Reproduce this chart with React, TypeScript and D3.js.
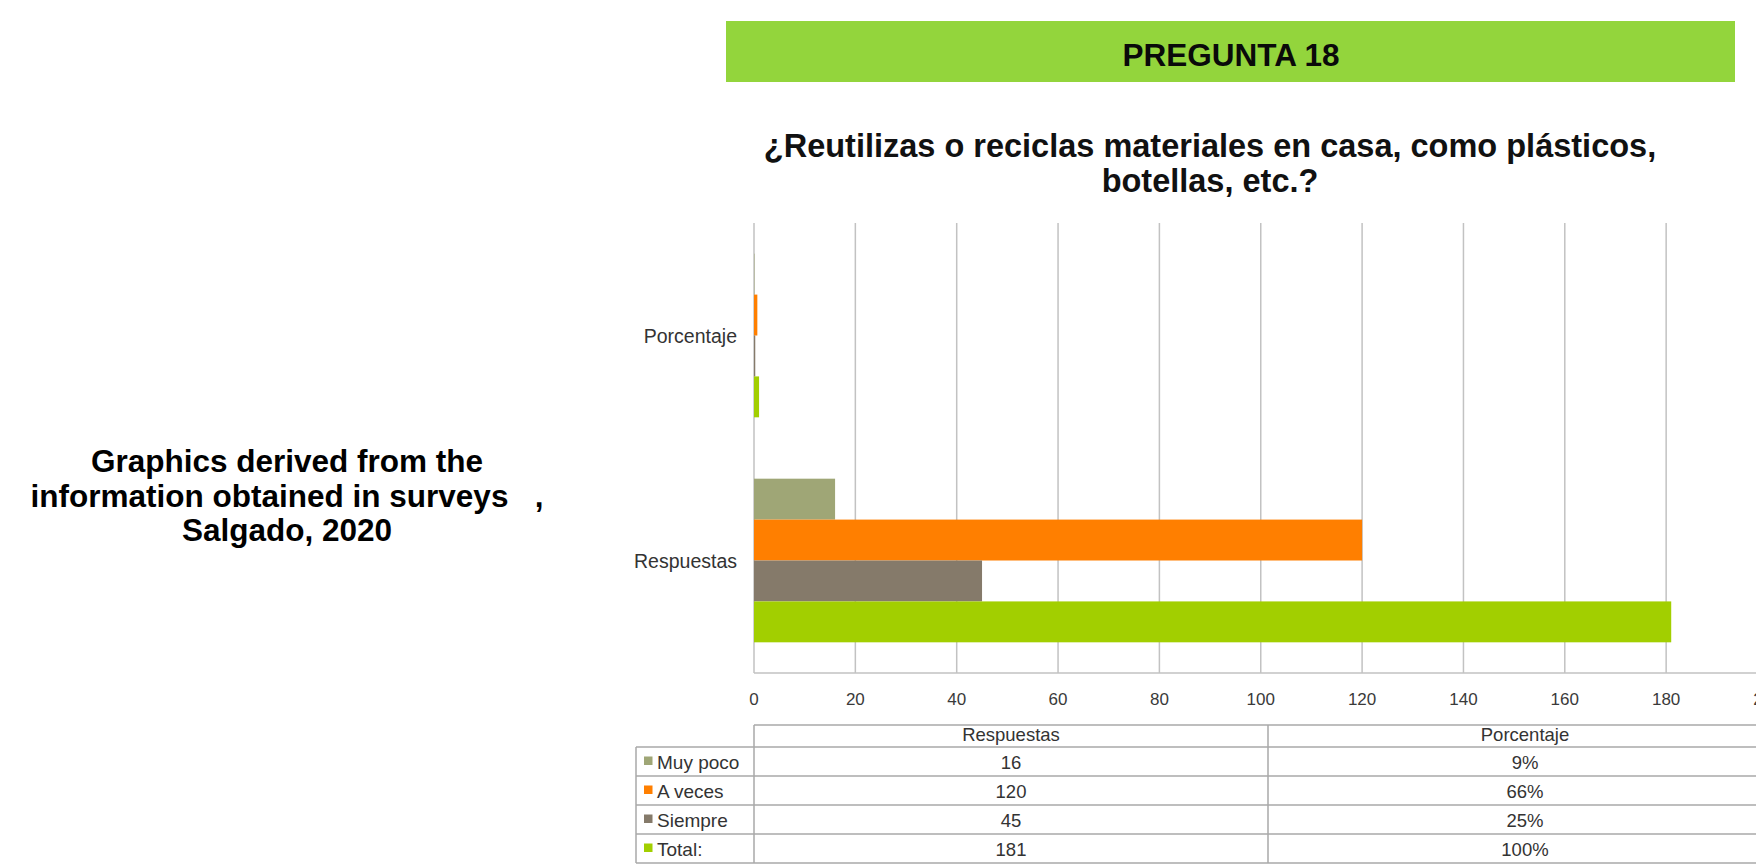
import React, { useEffect } from 'react';
import * as d3 from 'd3';

// survey answers, question 18
const categories = ['Porcentaje', 'Respuestas'];
const tableColumns = ['Respuestas', 'Porcentaje'];
const seriesNames = ['Muy poco', 'A veces', 'Siempre', 'Total:'];
const respuestas = [16, 120, 45, 181];
const porcentaje = [0.09, 0.66, 0.25, 1];
const seriesColors = ['#9FA676', '#FF7F00', '#857A6A', '#A2CF00'];
const xTickValues = [0, 20, 40, 60, 80, 100, 120, 140, 160, 180, 200];

const headerText = 'PREGUNTA 18';
const titleLines = ['¿Reutilizas o reciclas materiales en casa, como plásticos,', 'botellas, etc.?'];
const noteLines = ['Graphics derived from the', 'information obtained in surveys   ,', 'Salgado, 2020'];

const W = 1756;
const H = 864;
const plot = { left: 754, right: 1767.5, top: 223, bottom: 673 };
const table = { left: 636, right: 1782, headTop: 725, rowTop: 747, bottom: 863 };

const FONT = "'Liberation Sans', Arial, sans-serif";
const GRID = '#C2C2C2';
const LINE = '#A8A8A8';

export default function App() {
    useEffect(() => {
        document.body.style.margin = '0';
    }, []);

    const x = d3.scaleLinear().domain([0, 200]).range([plot.left, plot.right]);

    const y0 = d3.scaleBand<string>().domain(categories).range([plot.top, plot.bottom]);
    const y1 = d3.scaleBand<string>()
        .domain(seriesNames)
        .range([0, y0.bandwidth()])
        .paddingInner(0)
        .paddingOuter(0.75);

    const values: Record<string, number[]> = { Porcentaje: porcentaje, Respuestas: respuestas };

    const colX = d3.scaleBand<string>().domain(tableColumns).range([plot.left, table.right]);
    const rowY = d3.scaleBand<string>().domain(seriesNames).range([table.rowTop, table.bottom]);
    const pct = d3.format('.0%');

    return (
        <svg width={W} height={H} style={{ display: 'block', background: '#fff' }}>
            {/* header band */}
            <rect x={726} y={21} width={1009} height={61} fill="#93D53C" />
            <text x={1231} y={66} textAnchor="middle" fontFamily={FONT} fontWeight="bold" fontSize={31.5} fill="#0a0a0a">
                {headerText}
            </text>

            {/* title */}
            {titleLines.map((t, i) => (
                <text key={i} x={1210} y={157 + i * 35} textAnchor="middle" fontFamily={FONT}
                    fontWeight="bold" fontSize={32.5} fill="#111">
                    {t}
                </text>
            ))}

            {/* note on the left */}
            {noteLines.map((t, i) => (
                <text key={i} x={287} y={472 + i * 34.5} textAnchor="middle" fontFamily={FONT}
                    fontWeight="bold" fontSize={31.5} fill="#000" style={{ whiteSpace: 'pre' }}>
                    {t}
                </text>
            ))}

            {/* grid */}
            {xTickValues.map(v => (
                <line key={v} x1={x(v)} x2={x(v)} y1={plot.top} y2={plot.bottom} stroke={GRID} strokeWidth={1.5} />
            ))}
            <line x1={plot.left} x2={plot.right} y1={plot.bottom} y2={plot.bottom} stroke={GRID} strokeWidth={1.5} />

            {/* bars */}
            {categories.map(cat => (
                <g key={cat} transform={`translate(0,${y0(cat)})`}>
                    {seriesNames.map((s, i) => (
                        <rect key={s} x={x(0)} y={y1(s)} width={x(values[cat][i]) - x(0)}
                            height={y1.bandwidth()} fill={seriesColors[i]} />
                    ))}
                </g>
            ))}

            {/* category labels */}
            {categories.map(cat => (
                <text key={cat} x={737} y={(y0(cat) ?? 0) + y0.bandwidth() / 2 + 7} textAnchor="end"
                    fontFamily={FONT} fontSize={19.5} fill="#333">
                    {cat}
                </text>
            ))}

            {/* x tick labels */}
            {xTickValues.map(v => (
                <text key={v} x={x(v)} y={705} textAnchor="middle" fontFamily={FONT} fontSize={17} fill="#3a3a3a">
                    {v}
                </text>
            ))}

            {/* data table */}
            <g stroke={LINE} strokeWidth={1.5} fill="none">
                <line x1={plot.left} x2={table.right} y1={table.headTop} y2={table.headTop} />
                <line x1={table.left} x2={table.right} y1={table.rowTop} y2={table.rowTop} />
                {seriesNames.map(s => (
                    <line key={s} x1={table.left} x2={table.right} y1={(rowY(s) ?? 0) + rowY.bandwidth()}
                        y2={(rowY(s) ?? 0) + rowY.bandwidth()} />
                ))}
                <line x1={table.left} x2={table.left} y1={table.rowTop} y2={table.bottom} />
                {tableColumns.map(c => (
                    <line key={c} x1={colX(c)} x2={colX(c)} y1={table.headTop} y2={table.bottom} />
                ))}
            </g>
            {tableColumns.map(c => (
                <text key={c} x={(colX(c) ?? 0) + colX.bandwidth() / 2} y={741} textAnchor="middle"
                    fontFamily={FONT} fontSize={18.5} fill="#333">
                    {c}
                </text>
            ))}
            {seriesNames.map((s, i) => {
                const ty = (rowY(s) ?? 0) + rowY.bandwidth() / 2;
                return (
                    <g key={s}>
                        <rect x={644} y={ty - 5} width={8.5} height={8.5} fill={seriesColors[i]} />
                        <text x={657} y={ty + 7} fontFamily={FONT} fontSize={19} fill="#333">{s}</text>
                        <text x={(colX('Respuestas') ?? 0) + colX.bandwidth() / 2} y={ty + 7} textAnchor="middle"
                            fontFamily={FONT} fontSize={18.5} fill="#333">{respuestas[i]}</text>
                        <text x={(colX('Porcentaje') ?? 0) + colX.bandwidth() / 2} y={ty + 7} textAnchor="middle"
                            fontFamily={FONT} fontSize={18.5} fill="#333">{pct(porcentaje[i])}</text>
                    </g>
                );
            })}
        </svg>
    );
}
